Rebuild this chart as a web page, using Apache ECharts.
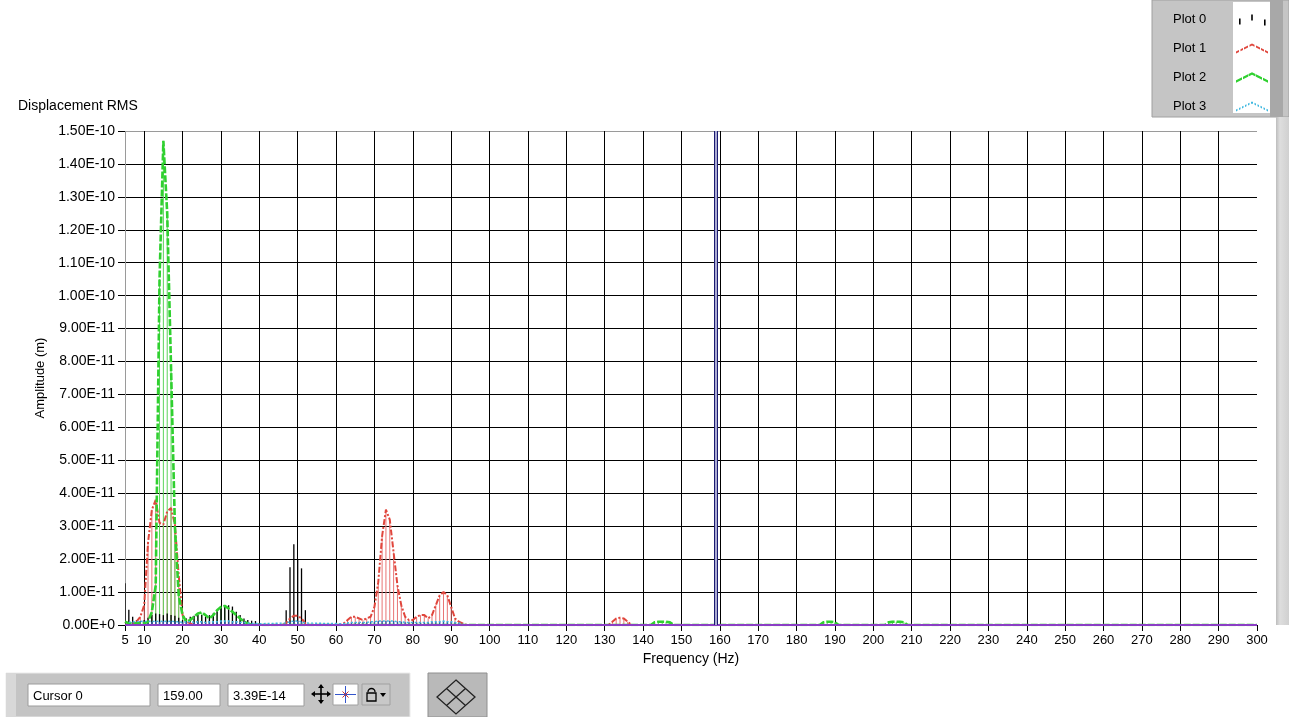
<!DOCTYPE html>
<html><head><meta charset="utf-8">
<script src="https://cdn.jsdelivr.net/npm/echarts@6/dist/echarts.min.js"></script>
<style>html,body{margin:0;padding:0;background:#fff}#c{width:1289px;height:717px}</style>
</head><body><div id="c"></div>
<script>
// ---- tick labels ----
const xTickValues = [5,10,20,30,40,50,60,70,80,90,100,110,120,130,140,150,160,170,180,190,200,210,220,230,240,250,260,270,280,290,300];
const yUnit = 1e-11;              // amplitudes below are in units of 1e-11 m
const yMax = 15, yStep = 1;

// ---- Plot 0 (black stems) ----
const plot0Freq = [5,6,7,8,9,10,11,12,13,14,15,16,17,18,19,20,21,22,23,24,25,26,27,28,29,30,31,32,33,34,35,36,37,38,39,40,47,48,49,50,51,52];
const plot0Amp  = [1.27,0.46,0.25,0.15,0.12,0.15,0.22,0.3,0.35,0.33,0.3,0.35,0.3,0.28,0.22,0.15,0.2,0.25,0.28,0.3,0.3,0.25,0.3,0.35,0.42,0.5,0.55,0.6,0.56,0.4,0.3,0.2,0.15,0.13,0.12,0.06,0.45,1.75,2.45,2.0,1.72,0.45];

// ---- Plot 1 (red) ----
const plot1Freq = [5,6,7,8,9,10,11,12,13,14,15,16,17,18,19,20,21,22,23,
  46,47,48,49,50,51,52,53,
  61,62,63,64,65,66,67,68,69,70,71,72,73,74,75,76,77,78,79,80,81,82,83,84,85,86,87,88,89,90,91,92,93,94,
  131,132,133,134,135,136,137,300];
const plot1Amp  = [0.1,0.05,0.05,0.1,0.25,0.6,2.5,3.5,3.8,3.1,3.05,3.45,3.55,3.05,1.5,0.3,0.1,0.05,0,
  0,0.05,0.2,0.28,0.28,0.2,0.05,0,
  0,0.05,0.15,0.25,0.25,0.2,0.15,0.2,0.25,0.55,1.3,2.7,3.5,3.2,2.2,1.2,0.6,0.25,0.15,0.15,0.25,0.3,0.3,0.2,0.3,0.6,0.9,1.0,0.9,0.55,0.2,0.1,0.05,0,
  0,0.1,0.2,0.22,0.2,0.1,0,0];

// ---- Plot 2 (green) ----
const plot2Freq = [5,6,7,8,9,10,11,12,13,14,15,16,17,18,19,20,21,22,23,24,25,26,27,28,29,30,31,32,33,34,35,36,37,38,
  142,143,144,145,146,147,148,
  186,187,188,189,190,191,
  203,204,205,206,207,208,209,300];
const plot2Amp  = [0.1,0.05,0.05,0.05,0.05,0.05,0.1,0.4,1.2,10.5,14.7,12.5,7.8,3.0,0.9,0.3,0.1,0.15,0.25,0.35,0.38,0.3,0.2,0.3,0.45,0.55,0.58,0.5,0.4,0.3,0.2,0.1,0.05,0,
  0,0.08,0.1,0.1,0.1,0.08,0,
  0,0.08,0.1,0.1,0.08,0,
  0,0.08,0.1,0.1,0.1,0.08,0,0];

// ---- Plot 3 (cyan, near zero) ----
const plot3Freq = [6,7,8,9,10,11,12,13,14,15,16,17,18,19,20,21,22,23,24,25,26,27,28,29,30,31,32,33,34,35,36,37,38,39,40,
  47,48,49,50,51,52,
  62,63,64,65,66,67,68,69,70,71,72,73,74,75,76,77,78,79,80,81,82,83,84,85,86,87,88,89,90,91,92,93];
const plot3Amp  = [0.08,0.1,0.1,0.12,0.1,0.12,0.1,0.12,0.1,0.12,0.1,0.12,0.1,0.1,0.08,0.1,0.1,0.08,0.1,0.1,0.08,0.1,0.1,0.1,0.12,0.12,0.12,0.1,0.1,0.08,0.08,0.06,0.05,0.05,0.04,
  0.06,0.1,0.12,0.12,0.1,0.06,
  0.04,0.06,0.08,0.08,0.08,0.08,0.08,0.1,0.1,0.12,0.12,0.12,0.12,0.12,0.1,0.1,0.08,0.08,0.08,0.08,0.08,0.08,0.08,0.1,0.1,0.1,0.12,0.1,0.1,0.08,0.06,0.04];

// ---- cursor ----
const cursorName = 'Cursor 0';
const cursorFreq = 159;
const cursorAmp = 3.39e-14;

const FONT = '"Liberation Sans", Arial, sans-serif';
const pairs = (f, a) => f.map((x, i) => [x, a[i]]);

function stemSeries(name, freq, amp, color, width) {
  return {
    type: 'custom', name, silent: true, clip: true, z: 2,
    data: pairs(freq, amp),
    encode: { x: 0, y: 1 },
    renderItem: (params, api) => {
      const p0 = api.coord([api.value(0), 0]);
      const p1 = api.coord([api.value(0), api.value(1)]);
      return { type: 'line', shape: { x1: p0[0], y1: p0[1], x2: p1[0], y2: p1[1] },
               style: { stroke: color, lineWidth: width } };
    }
  };
}
function lineSeries(name, freq, amp, color, width, dash, extra) {
  return Object.assign({
    type: 'line', name, silent: true, showSymbol: false, clip: true, z: 3,
    data: pairs(freq, amp),
    lineStyle: { color, width, type: dash },
    itemStyle: { color }
  }, extra || {});
}

// legend icon helpers (icon geometry only)
function tentPath(dashes, t) {
  const yAt = x => x <= 16 ? 10 - x * 0.5 : 2 + (x - 16) * 0.5;
  let d = 'M0,0 L0.01,0 L0.01,0.01 Z M32,12 L31.99,12 L31.99,11.99 Z ';
  dashes.forEach(([a, b]) => {
    d += `M${a},${yAt(a) - t / 2} L${b},${yAt(b) - t / 2} L${b},${yAt(b) + t / 2} L${a},${yAt(a) + t / 2} Z `;
  });
  return 'path://' + d;
}
const iconPlot0 = 'path://M0,0 L0.01,0 L0.01,0.01 Z M32,12 L31.99,12 L31.99,11.99 Z M3,5h1.6v6h-1.6Z M15.2,1h1.6v6h-1.6Z M28,6h1.6v6h-1.6Z';
const iconPlot1 = tentPath([[0,3],[4.5,7],[8,12],[13.5,16],[16,18.5],[20,24],[25,28],[29,32]], 2.2);
const iconPlot2 = tentPath([[0,6],[7,12],[12.5,16],[16,19.5],[20,26],[27,32]], 2.6);
const iconPlot3 = tentPath([[0,1.5],[3,4.5],[6,7.5],[9,10.5],[12,13.5],[15,16],[16,17],[18.5,20],[21.5,23],[24.5,26],[27.5,29],[30.5,32]], 2);

const xSplitColors = xTickValues.map((v, i) => i === 0 ? '#9a9a9a' : (i === xTickValues.length - 1 ? 'rgba(0,0,0,0)' : '#000'));
const ySplitColors = [];
for (let i = 0; i <= yMax / yStep; i++) ySplitColors.push(i === yMax / yStep ? '#9a9a9a' : '#000');

const gfx = [];
// legend panel
gfx.push({ type: 'rect', z: 1, shape: { x: 1152, y: 0, width: 137, height: 117 }, style: { fill: '#c5c5c5', stroke: '#a0a0a0', lineWidth: 1 } });
gfx.push({ type: 'rect', z: 1, shape: { x: 1233, y: 2, width: 37, height: 111 }, style: { fill: '#ffffff' } });
gfx.push({ type: 'rect', z: 1, shape: { x: 1270, y: 0, width: 13, height: 117 }, style: { fill: '#a8a8a8' } });
// right strip
gfx.push({ type: 'rect', z: 1, shape: { x: 1276, y: 117, width: 13, height: 508 },
  style: { fill: new echarts.graphic.LinearGradient(0, 0, 1, 0, [{ offset: 0, color: '#bdbdbd' }, { offset: 0.3, color: '#dedede' }, { offset: 1, color: '#d0d0d0' }]) } });
// cursor panel
gfx.push({ type: 'rect', z: 1, shape: { x: 6, y: 673, width: 404, height: 44 }, style: { fill: '#c4c4c4', stroke: '#eaeaea', lineWidth: 1 } });
gfx.push({ type: 'rect', z: 1, shape: { x: 6, y: 673, width: 10, height: 44 }, style: { fill: '#d8d8d8' } });
const fields = [[28, 684, 122, 22, cursorName], [158, 684, 62, 22, cursorFreq.toFixed(2)], [228, 684, 76, 22, cursorAmp.toExponential(2).toUpperCase()]];
fields.forEach(([x, y, w, h, t]) => {
  gfx.push({ type: 'rect', z: 2, shape: { x, y, width: w, height: h }, style: { fill: '#fff', stroke: '#9c9c9c', lineWidth: 1 } });
  gfx.push({ type: 'text', z: 3, style: { text: t, x: x + 5, y: y + h / 2 + 1, font: '13px ' + FONT, fill: '#000', verticalAlign: 'middle' } });
});
// move icon
gfx.push({ type: 'polyline', z: 3, shape: { points: [[312, 694], [330, 694]] }, style: { stroke: '#000', lineWidth: 1.6 } });
gfx.push({ type: 'polyline', z: 3, shape: { points: [[321, 685], [321, 703]] }, style: { stroke: '#000', lineWidth: 1.6 } });
[[[311, 694], [315, 691], [315, 697]], [[331, 694], [327, 691], [327, 697]], [[321, 684], [318, 688], [324, 688]], [[321, 704], [318, 700], [324, 700]]]
  .forEach(p => gfx.push({ type: 'polygon', z: 3, shape: { points: p }, style: { fill: '#000' } }));
// crosshair button
gfx.push({ type: 'rect', z: 2, shape: { x: 333, y: 684, width: 25, height: 21 }, style: { fill: '#fff', stroke: '#a0a0a0' } });
gfx.push({ type: 'polyline', z: 3, shape: { points: [[335, 694.5], [356, 694.5]] }, style: { stroke: '#3355cc', lineWidth: 1 } });
gfx.push({ type: 'polyline', z: 3, shape: { points: [[345.5, 686], [345.5, 703]] }, style: { stroke: '#3355cc', lineWidth: 1 } });
gfx.push({ type: 'polyline', z: 3, shape: { points: [[342.5, 691.5], [348.5, 697.5]] }, style: { stroke: '#cc3333', lineWidth: 1 } });
gfx.push({ type: 'polyline', z: 3, shape: { points: [[348.5, 691.5], [342.5, 697.5]] }, style: { stroke: '#cc3333', lineWidth: 1 } });
// lock button
gfx.push({ type: 'rect', z: 2, shape: { x: 362, y: 684, width: 28, height: 21 }, style: { fill: '#c8c8c8', stroke: '#a0a0a0' } });
gfx.push({ type: 'rect', z: 3, shape: { x: 367, y: 693, width: 9, height: 8 }, style: { fill: 'none', stroke: '#000', lineWidth: 1.3 } });
gfx.push({ type: 'arc', z: 3, shape: { cx: 371.5, cy: 692, r: 3.5, startAngle: Math.PI, endAngle: 0 }, style: { fill: 'none', stroke: '#000', lineWidth: 1.3 } });
gfx.push({ type: 'polygon', z: 3, shape: { points: [[380, 693], [386, 693], [383, 697]] }, style: { fill: '#000' } });
// second panel with diamond
gfx.push({ type: 'rect', z: 1, shape: { x: 428, y: 673, width: 59, height: 44 }, style: { fill: '#b9b9b9', stroke: '#8f8f8f' } });
gfx.push({ type: 'polygon', z: 3, shape: { points: [[456, 680], [475, 697], [456, 714], [437, 697]] }, style: { fill: 'none', stroke: '#222', lineWidth: 1.3 } });
gfx.push({ type: 'polyline', z: 3, shape: { points: [[446.5, 688.5], [465.5, 705.5]] }, style: { stroke: '#222', lineWidth: 1.3 } });
gfx.push({ type: 'polyline', z: 3, shape: { points: [[465.5, 688.5], [446.5, 705.5]] }, style: { stroke: '#222', lineWidth: 1.3 } });

const option = {
  animation: false,
  backgroundColor: '#ffffff',
  title: { text: 'Displacement RMS', left: 18, top: 99, padding: 0,
           textStyle: { fontFamily: FONT, fontSize: 14, fontWeight: 'normal', color: '#000' } },
  legend: {
    orient: 'vertical', right: 21, top: 13, itemWidth: 32, itemHeight: 12, itemGap: 16,
    align: 'right', selectedMode: false, padding: 0, z: 5,
    formatter: '{a|{name}}',
    textStyle: { fontFamily: FONT, fontSize: 13, color: '#000',
                 rich: { a: { width: 58, align: 'left', fontFamily: FONT, fontSize: 13, color: '#000' } } },
    data: [
      { name: 'Plot 0', icon: iconPlot0, itemStyle: { color: '#000' } },
      { name: 'Plot 1', icon: iconPlot1, itemStyle: { color: '#e0463c' } },
      { name: 'Plot 2', icon: iconPlot2, itemStyle: { color: '#2fd02f' } },
      { name: 'Plot 3', icon: iconPlot3, itemStyle: { color: '#3fb8e0' } }
    ]
  },
  grid: { left: 125, right: 32, top: 131, bottom: 92, outerBoundsMode: 'none' },
  xAxis: {
    type: 'value', min: 5, max: 300,
    name: 'Frequency (Hz)', nameLocation: 'middle', nameGap: 17,
    nameTextStyle: { fontFamily: FONT, fontSize: 14, color: '#000' },
    axisLine: { show: false },
    axisTick: { show: true, length: 6, customValues: xTickValues, lineStyle: { color: '#000', width: 1 } },
    axisLabel: { customValues: xTickValues, margin: 9, fontFamily: FONT, fontSize: 13, color: '#000', showMinLabel: true, showMaxLabel: true },
    splitLine: { show: true, lineStyle: { color: xSplitColors, width: 1 } }
  },
  yAxis: {
    type: 'value', min: 0, max: yMax, interval: yStep,
    name: 'Amplitude (m)', nameLocation: 'middle', nameGap: 68, nameRotate: 90,
    nameTextStyle: { fontFamily: FONT, fontSize: 13, color: '#000' },
    axisLine: { show: false },
    axisTick: { show: true, length: 7, lineStyle: { color: '#000', width: 1 } },
    axisLabel: { margin: 10, fontFamily: FONT, fontSize: 14, color: '#000',
                 formatter: v => v === 0 ? '0.00E+0' : (v * yUnit).toExponential(2).toUpperCase() },
    splitLine: { show: true, lineStyle: { color: ySplitColors, width: 1 } }
  },
  graphic: gfx,
  series: [
    stemSeries('Plot 1', plot1Freq, plot1Amp, '#e87474', 1),
    lineSeries('Plot 1', plot1Freq, plot1Amp, '#e0463c', 2, [6, 2, 2, 2]),
    stemSeries('Plot 2', plot2Freq, plot2Amp, '#5bd45b', 1),
    lineSeries('Plot 2', plot2Freq, plot2Amp, '#2fd02f', 2.6, [7, 2]),
    stemSeries('Plot 0', plot0Freq, plot0Amp, '#000000', 1.3),
    stemSeries('Plot 3', plot3Freq, plot3Amp, '#2a5db0', 1.4),
    lineSeries('Plot 3', plot3Freq, plot3Amp, '#3fb8e0', 1.4, [2, 2], {
      z: 5,
      markLine: {
        silent: true, symbol: ['none', 'none'], label: { show: false }, animation: false,
        data: [
          { yAxis: 0, lineStyle: { color: '#8b3fc4', width: 2, type: 'solid' } },
          { xAxis: cursorFreq, lineStyle: { color: '#1b1b72', width: 4, type: 'solid' } },
          { xAxis: cursorFreq, lineStyle: { color: '#dcdcf2', width: 1.5, type: 'solid' } }
        ]
      }
    })
  ]
};
const chart = echarts.init(document.getElementById('c'), null, { renderer: 'canvas' });
chart.setOption(option);
</script></body></html>
